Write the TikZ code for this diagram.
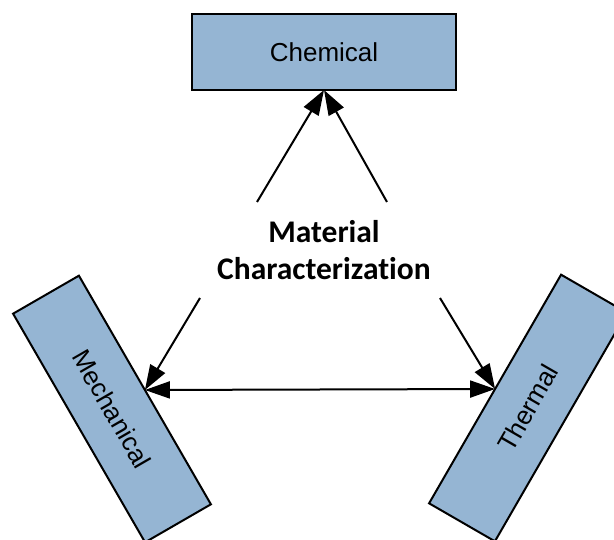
\documentclass[tikz,border=0pt]{standalone}
\usepackage{fontspec}
\setmainfont{Liberation Sans}
\newfontfamily\calib[Ligatures=NoCommon]{Carlito}
\usetikzlibrary{arrows.meta}
\definecolor{boxblue}{RGB}{149,181,211}
\tikzset{
  box/.style={draw=black, line width=2pt, fill=boxblue, minimum width=264pt, minimum height=76pt,
    inner sep=0pt, outer sep=0pt, font=\fontsize{26}{30}\selectfont},
  arr/.style={line width=2pt, -{Triangle[length=25pt,width=17pt]}},
  darr/.style={line width=2pt, {Triangle[length=25pt,width=17pt]}-{Triangle[length=25pt,width=17pt]}}
}
\begin{document}
\begin{tikzpicture}[x=1pt,y=-1pt]
\useasboundingbox (0,0) rectangle (614,540);
\clip (0,0) rectangle (614,540);
\node[box] (chem) at (324,52) {Chemical};
\node[box, rotate=-60] (mech) at (112,409) {Mechanical};
\node[box, rotate=60] (therm) at (528,408) {Thermal};
\node[align=center, font=\calib\bfseries\fontsize{31.5}{37}\selectfont] (mc) at (324,250) {Material\\Characterization};
\coordinate (a1) at (257,202);
\coordinate (a2) at (387,202);
\coordinate (a3) at (200,298);
\coordinate (a4) at (440,298);
\draw[arr] (a1) -- (chem.south);
\draw[arr] (a2) -- (chem.south);
\draw[arr] (a3) -- (mech.north);
\draw[arr] (a4) -- (therm.north);
\draw[darr] (mech.north) -- (therm.north);
\end{tikzpicture}
\end{document}
